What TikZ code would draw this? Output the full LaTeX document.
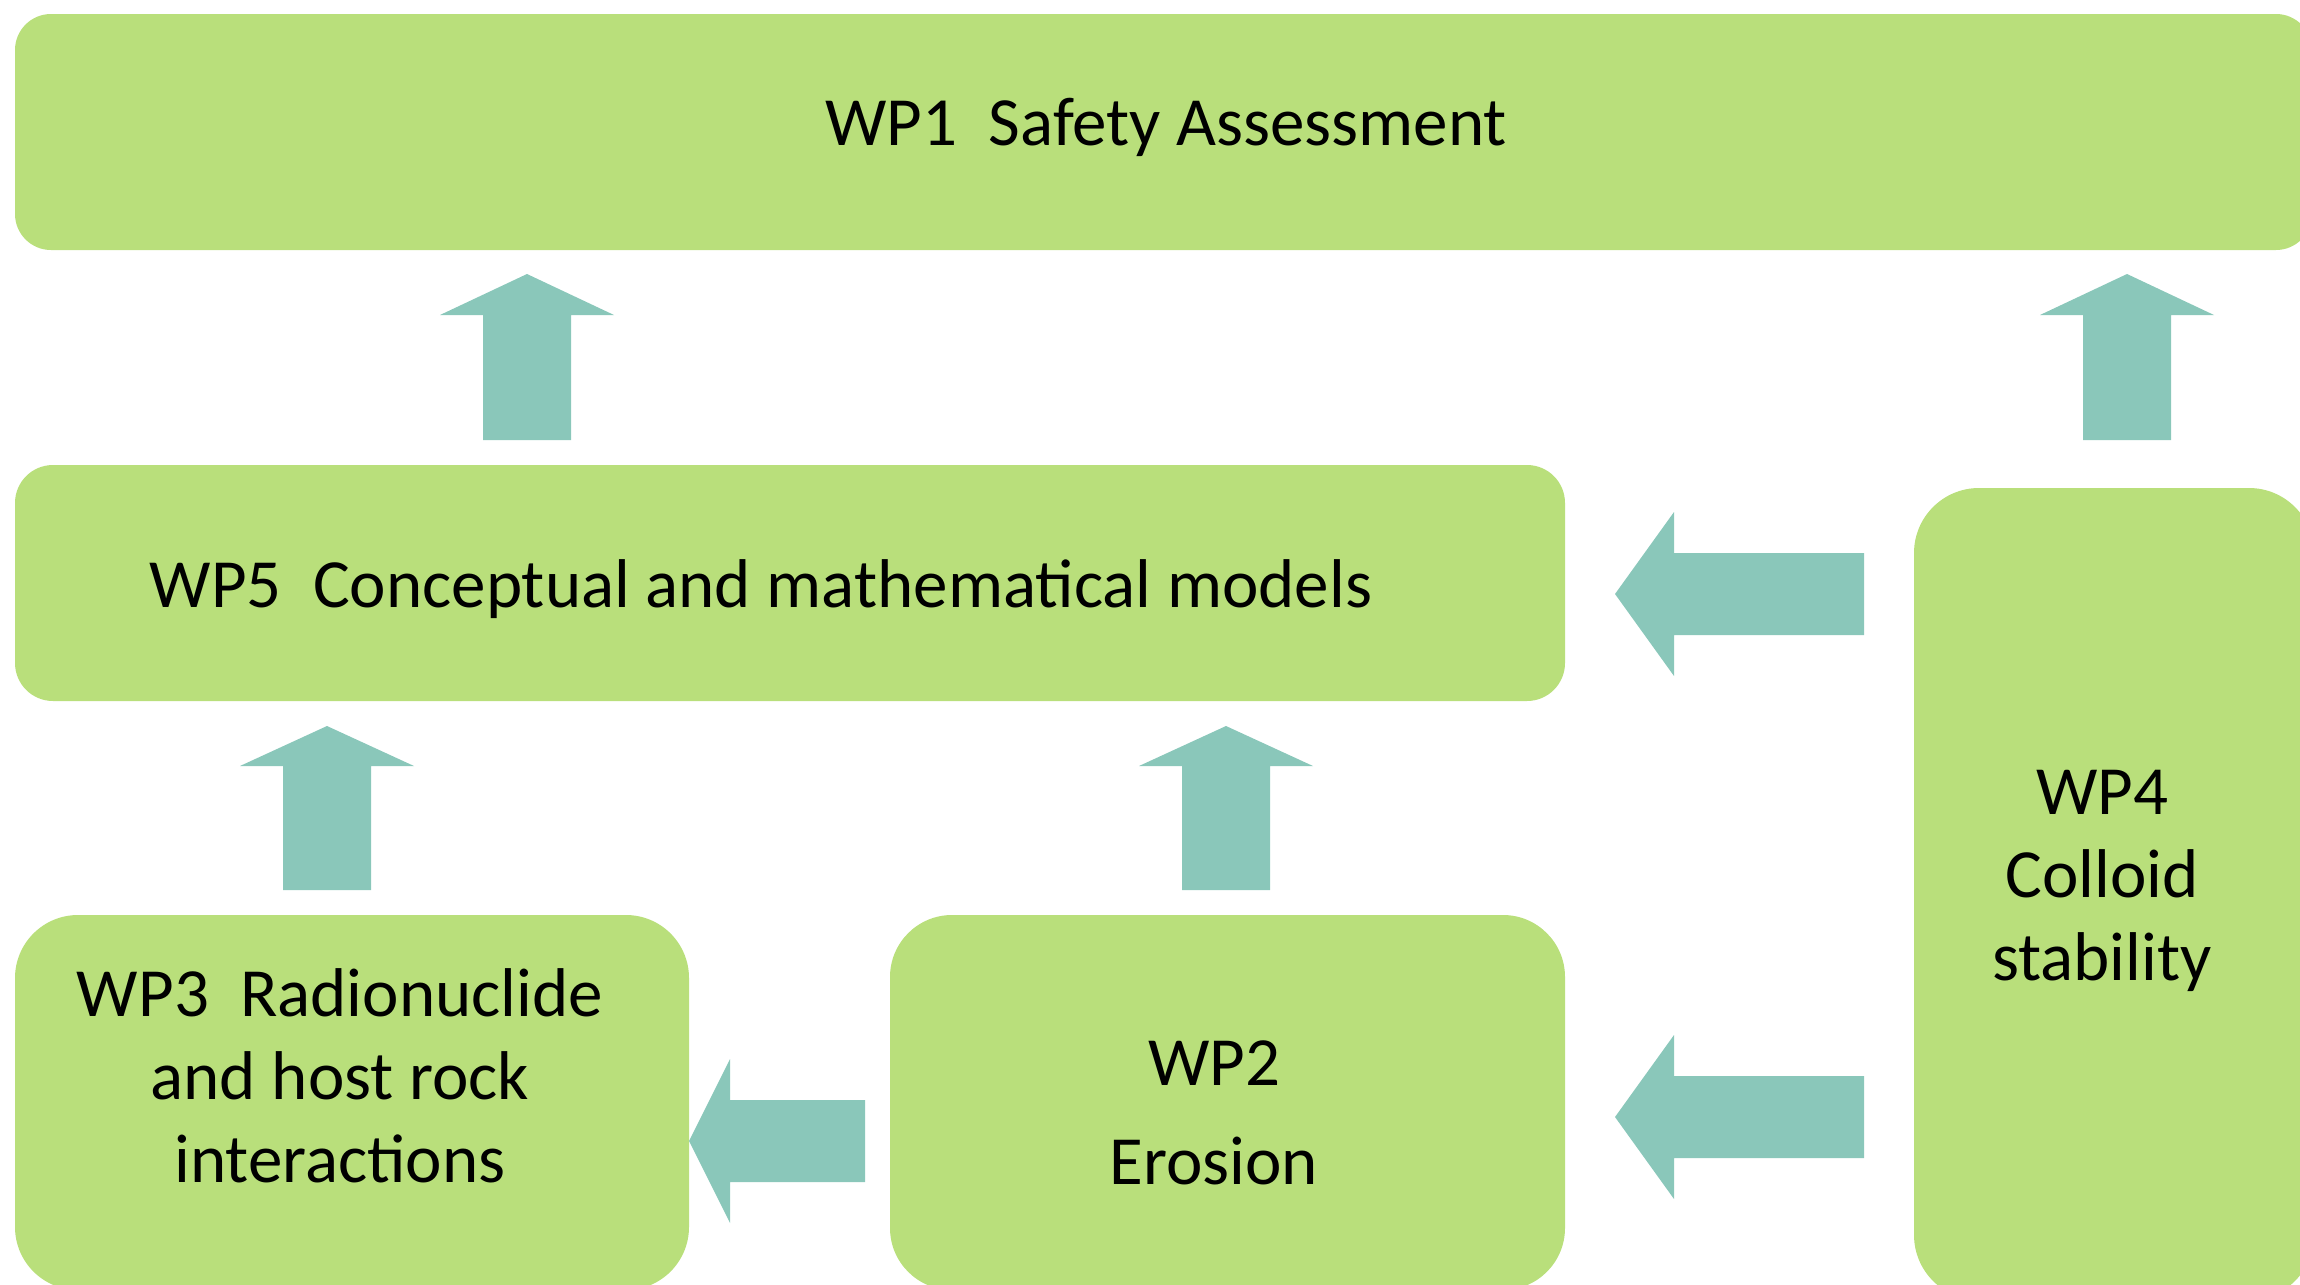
\documentclass[tikz,border=0pt]{standalone}
\usepackage{fontspec}
\setmainfont{Carlito}
\definecolor{boxgreen}{RGB}{185,223,123}
\definecolor{arrowteal}{RGB}{138,199,186}
% up block arrow: centre x, tip y, head-base y, bottom y
\newcommand\wpUpArrow[4]{%
  \fill[flowarrow] (#1,#2) -- (#1+87,#3) -- (#1+44,#3) -- (#1+44,#4)
    -- (#1-44,#4) -- (#1-44,#3) -- (#1-87,#3) -- cycle;}
% left block arrow: tip x, centre y, head-base x, tail x
\newcommand\wpLeftArrow[4]{%
  \fill[flowarrow] (#1,#2) -- (#3,#2-82) -- (#3,#2-41) -- (#4,#2-41)
    -- (#4,#2+41) -- (#3,#2+41) -- (#3,#2+82) -- cycle;}
\begin{document}
\begin{tikzpicture}[x=1pt,y=-1pt,
  wpbox/.style={fill=boxgreen, draw=none, inner sep=0pt, rectangle},
  flowarrow/.style={fill=arrowteal, draw=none},
  wptext/.style={font=\fontsize{69}{83}\selectfont, inner sep=0pt, align=center, anchor=base, text=black}]
\useasboundingbox (0,0) rectangle (2300,1285);
\clip (0,0) rectangle (2300,1285);

% boxes
\node[wpbox, rounded corners=36pt, minimum width=2297pt, minimum height=236pt] (wp1) at (1163.5,132) {};
\node[wpbox, rounded corners=38pt, minimum width=1550pt, minimum height=236pt] (wp5) at (790,583) {};
\node[wpbox, rounded corners=65pt, minimum width=400pt, minimum height=812pt] (wp4) at (2114,894) {};
\node[wpbox, rounded corners=63pt, minimum width=674pt, minimum height=375pt] (wp3) at (352,1102.5) {};
\node[wpbox, rounded corners=62pt, minimum width=675pt, minimum height=375pt] (wp2) at (1227.5,1102.5) {};

% arrows
\wpUpArrow{527}{274}{315}{440}
\wpUpArrow{2127}{274}{315}{440}
\wpUpArrow{327}{726}{766}{890}
\wpUpArrow{1226}{726}{766}{890}
\wpLeftArrow{1615}{594}{1674}{1864}
\wpLeftArrow{1615}{1117}{1674}{1864}
\wpLeftArrow{689}{1141}{730}{865}

% texts (base anchor = baseline of the last line)
\node[wptext] (wp1t) at (1166,145) {WP1~~Safety Assessment};
\node[wptext] (wp5t) at (761,607) {WP5~~Conceptual and mathematical models};
\node[wptext] (wp3t) at (340,1182) {WP3~~Radionuclide\\and host rock\\interactions};
\node[wptext, font=\fontsize{69}{99}\selectfont] (wp2t) at (1214,1184) {WP2\\Erosion};
\node[wptext] (wp4t) at (2102,980) {WP4\\Colloid\\stability};
\end{tikzpicture}
\end{document}
